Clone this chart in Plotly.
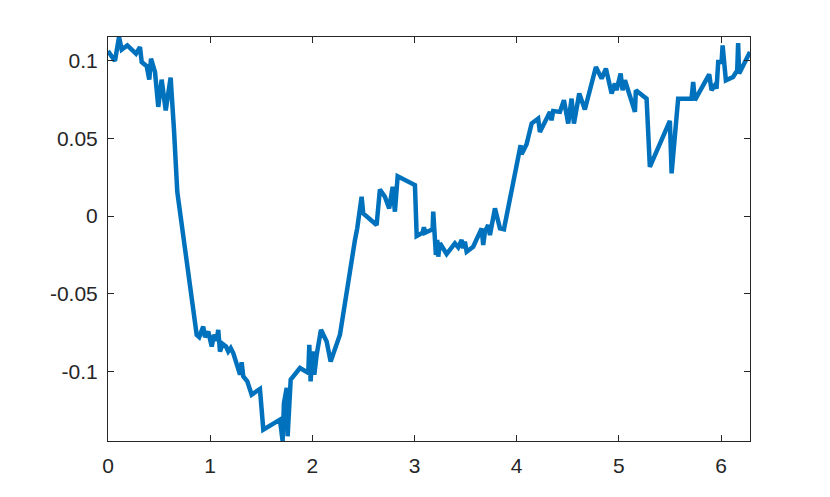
import math
import plotly.graph_objects as go

x_vals = [
    0.000, 0.068, 0.108, 0.134, 0.189, 0.232, 0.274, 0.313, 0.330, 0.379,
    0.404, 0.421, 0.460, 0.492, 0.525, 0.565, 0.613, 0.646, 0.678, 0.868,
    0.893, 0.932, 0.949, 0.981, 1.015, 1.037, 1.064, 1.079, 1.096, 1.122,
    1.155, 1.177, 1.201, 1.226, 1.292, 1.308, 1.324, 1.363, 1.406, 1.487,
    1.520, 1.683, 1.709, 1.722, 1.749, 1.758, 1.788, 1.879, 1.960, 1.970,
    1.983, 2.003, 2.019, 2.042, 2.084, 2.140, 2.179, 2.270, 2.368, 2.417,
    2.439, 2.482, 2.498, 2.629, 2.661, 2.710, 2.752, 2.786, 2.808, 2.835,
    3.004, 3.014, 3.021, 3.079, 3.092, 3.102, 3.177, 3.183, 3.209, 3.222,
    3.232, 3.249, 3.314, 3.395, 3.428, 3.461, 3.477, 3.493, 3.510, 3.574,
    3.657, 3.672, 3.689, 3.721, 3.738, 3.787, 3.836, 3.875, 3.966, 4.038,
    4.048, 4.097, 4.146, 4.210, 4.227, 4.325, 4.341, 4.357, 4.423, 4.462,
    4.504, 4.537, 4.560, 4.612, 4.667, 4.775, 4.831, 4.873, 4.929, 4.961,
    4.977, 5.017, 5.036, 5.059, 5.157, 5.166, 5.271, 5.303, 5.499, 5.516,
    5.580, 5.711, 5.727, 5.744, 5.884, 5.907, 5.940, 5.956, 5.972, 6.005,
    6.015, 6.047, 6.118, 6.158, 6.167, 6.177, 6.283,
]
y_vals = [
    0.1060, 0.0996, 0.1150, 0.1069, 0.1096, 0.1064, 0.1043, 0.1085, 0.0989, 0.0962,
    0.0876, 0.1011, 0.0925, 0.0701, 0.0876, 0.0679, 0.0889, 0.0551, 0.0156, -0.0763,
    -0.0778, -0.0710, -0.0778, -0.0742, -0.0838, -0.0763, -0.0799, -0.0731, -0.0870, -0.0821,
    -0.0838, -0.0870, -0.0848, -0.0880, -0.1019, -0.0940, -0.1030, -0.1062, -0.1147, -0.1111,
    -0.1372, -0.1308, -0.1445, -0.1201, -0.1104, -0.1415, -0.1051, -0.0976, -0.1008, -0.0827,
    -0.1062, -0.0870, -0.1019, -0.0891, -0.0731, -0.0806, -0.0934, -0.0763, -0.0335, -0.0154,
    -0.0079, 0.0124, 0.0017, -0.0058, 0.0171, 0.0124, 0.0049, 0.0188, 0.0028, 0.0256,
    0.0199, 0.0081, -0.0128, -0.0107, -0.0072, -0.0107, -0.0085, 0.0028, -0.0250, -0.0154,
    -0.0261, -0.0175, -0.0244, -0.0175, -0.0201, -0.0154, -0.0207, -0.0165, -0.0229, -0.0197,
    -0.0079, -0.0186, -0.0101, -0.0058, -0.0122, 0.0049, -0.0079, -0.0085, 0.0210, 0.0455,
    0.0397, 0.0462, 0.0594, 0.0626, 0.0540, 0.0669, 0.0615, 0.0675, 0.0669, 0.0744,
    0.0594, 0.0754, 0.0594, 0.0787, 0.0684, 0.0957, 0.0883, 0.0947, 0.0787, 0.0851,
    0.0808, 0.0915, 0.0808, 0.0872, 0.0669, 0.0808, 0.0754, 0.0316, 0.0611, 0.0274,
    0.0754, 0.0754, 0.0861, 0.0744, 0.0910, 0.0808, 0.0840, 0.0819, 0.0989, 0.0989,
    0.1096, 0.0872, 0.0893, 0.0936, 0.1111, 0.0915, 0.1053,
]

x_ticks = [0, 1, 2, 3, 4, 5, 6]
y_ticks = [-0.1, -0.05, 0, 0.05, 0.1]
y_labels = ["-0.1", "-0.05", "0", "0.05", "0.1"]

AXIS_COLOR = "#262626"

fig = go.Figure(
    go.Scatter(
        x=x_vals,
        y=y_vals,
        mode="lines",
        line=dict(color="#0072BD", width=4.5),
        hoverinfo="skip",
    )
)

axis_style = dict(
    showline=True,
    linecolor=AXIS_COLOR,
    linewidth=1,
    mirror="ticks",
    ticks="inside",
    ticklen=6,
    tickcolor=AXIS_COLOR,
    showgrid=False,
    zeroline=False,
    tickfont=dict(color=AXIS_COLOR, size=21, family="Liberation Sans"),
)

# page body adds an 8px offset, so margins are shifted to line up with the reference
fig.update_layout(
    width=830,
    height=497,
    paper_bgcolor="white",
    plot_bgcolor="white",
    margin=dict(l=100, r=88, t=29, b=64),
    showlegend=False,
    xaxis=dict(range=[0, 2 * math.pi], tickvals=x_ticks, ticklabelstandoff=6, **axis_style),
    yaxis=dict(
        range=[min(y_vals), max(y_vals)],
        tickvals=y_ticks,
        ticktext=y_labels,
        ticklabelstandoff=5,
        **axis_style,
    ),
)

fig.write_html("out.html")
